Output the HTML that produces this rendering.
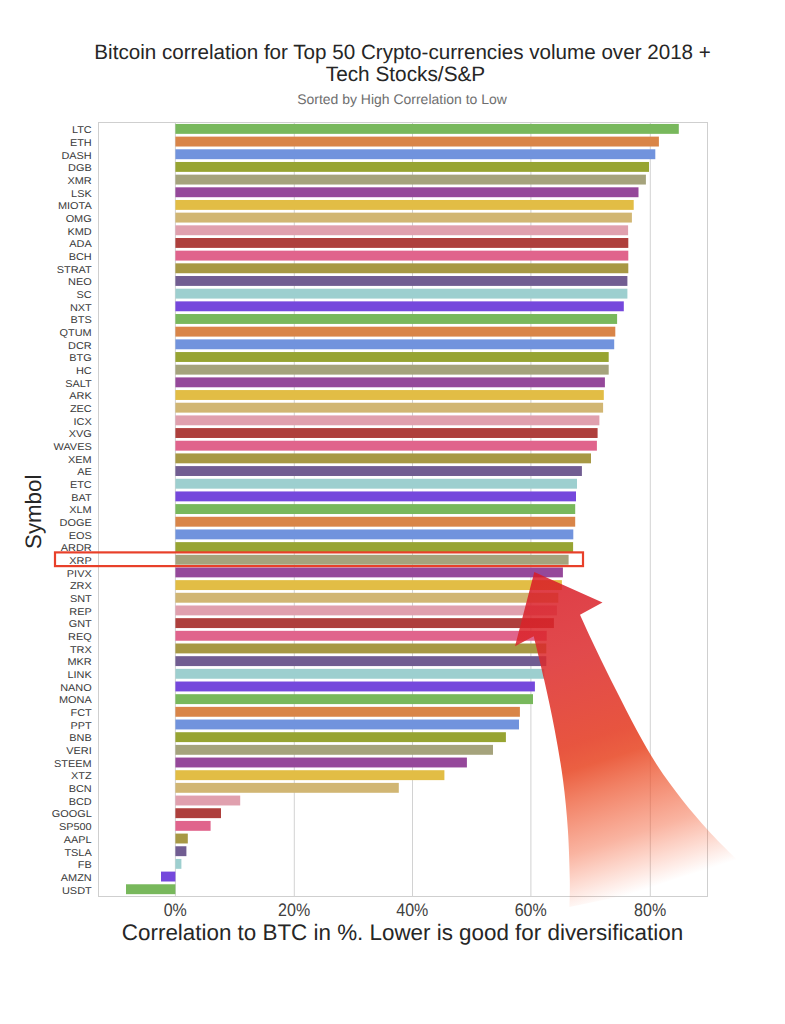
<!DOCTYPE html>
<html><head><meta charset="utf-8"><title>Bitcoin correlation</title>
<style>
html,body{margin:0;padding:0;background:#fff;}
body{width:785px;height:1024px;overflow:hidden;font-family:"Liberation Sans",sans-serif;}
svg{display:block;}
text{font-family:"Liberation Sans",sans-serif;text-rendering:geometricPrecision;}
</style></head><body>
<svg width="785" height="1024" viewBox="0 0 785 1024">
<defs>
<linearGradient id="ag" gradientUnits="userSpaceOnUse" x1="535" y1="572" x2="638.8" y2="891.5">
<stop offset="0" stop-color="#d81a26" stop-opacity="0.85"/>
<stop offset="0.27" stop-color="#dc2a2c" stop-opacity="0.85"/>
<stop offset="0.524" stop-color="#e5422a" stop-opacity="0.9"/>
<stop offset="0.595" stop-color="#e84a28" stop-opacity="0.88"/>
<stop offset="0.68" stop-color="#ec5029" stop-opacity="0.72"/>
<stop offset="0.833" stop-color="#f25429" stop-opacity="0.44"/>
<stop offset="0.917" stop-color="#f65629" stop-opacity="0.22"/>
<stop offset="1" stop-color="#f65629" stop-opacity="0"/>
</linearGradient>
</defs>
<rect width="785" height="1024" fill="#ffffff"/>
<rect x="98.5" y="122.5" width="609.0" height="774.0" fill="#fff" stroke="#cfcfcf" stroke-width="1"/>
<line x1="175.4" y1="122.5" x2="175.4" y2="896.5" stroke="#d2d2d2" stroke-width="1"/>
<line x1="294.3" y1="122.5" x2="294.3" y2="896.5" stroke="#d2d2d2" stroke-width="1"/>
<line x1="412.5" y1="122.5" x2="412.5" y2="896.5" stroke="#d2d2d2" stroke-width="1"/>
<line x1="530.9" y1="122.5" x2="530.9" y2="896.5" stroke="#d2d2d2" stroke-width="1"/>
<line x1="650.3" y1="122.5" x2="650.3" y2="896.5" stroke="#d2d2d2" stroke-width="1"/>
<rect x="175.4" y="123.95" width="503.4" height="9.90" fill="#78b85c"/>
<rect x="175.4" y="136.62" width="483.5" height="9.90" fill="#d98548"/>
<rect x="175.4" y="149.29" width="479.9" height="9.90" fill="#7193dd"/>
<rect x="175.4" y="161.97" width="473.6" height="9.90" fill="#97a432"/>
<rect x="175.4" y="174.64" width="470.5" height="9.90" fill="#a5a37c"/>
<rect x="175.4" y="187.31" width="463.1" height="9.90" fill="#95489a"/>
<rect x="175.4" y="199.98" width="458.3" height="9.90" fill="#e2bd45"/>
<rect x="175.4" y="212.65" width="456.5" height="9.90" fill="#d1b673"/>
<rect x="175.4" y="225.33" width="452.7" height="9.90" fill="#e0a0ae"/>
<rect x="175.4" y="238.00" width="452.9" height="9.90" fill="#ae3f3c"/>
<rect x="175.4" y="250.67" width="452.9" height="9.90" fill="#e0648c"/>
<rect x="175.4" y="263.34" width="452.9" height="9.90" fill="#a79844"/>
<rect x="175.4" y="276.01" width="452.0" height="9.90" fill="#715d92"/>
<rect x="175.4" y="288.69" width="452.0" height="9.90" fill="#9dcfcf"/>
<rect x="175.4" y="301.36" width="448.4" height="9.90" fill="#7548dc"/>
<rect x="175.4" y="314.03" width="441.7" height="9.90" fill="#78b85c"/>
<rect x="175.4" y="326.70" width="439.9" height="9.90" fill="#d98548"/>
<rect x="175.4" y="339.37" width="438.8" height="9.90" fill="#7193dd"/>
<rect x="175.4" y="352.05" width="433.3" height="9.90" fill="#97a432"/>
<rect x="175.4" y="364.72" width="433.3" height="9.90" fill="#a5a37c"/>
<rect x="175.4" y="377.39" width="429.5" height="9.90" fill="#95489a"/>
<rect x="175.4" y="390.06" width="428.4" height="9.90" fill="#e2bd45"/>
<rect x="175.4" y="402.73" width="427.7" height="9.90" fill="#d1b673"/>
<rect x="175.4" y="415.41" width="424.0" height="9.90" fill="#e0a0ae"/>
<rect x="175.4" y="428.08" width="422.2" height="9.90" fill="#ae3f3c"/>
<rect x="175.4" y="440.75" width="421.5" height="9.90" fill="#e0648c"/>
<rect x="175.4" y="453.42" width="415.6" height="9.90" fill="#a79844"/>
<rect x="175.4" y="466.09" width="406.5" height="9.90" fill="#715d92"/>
<rect x="175.4" y="478.77" width="401.6" height="9.90" fill="#9dcfcf"/>
<rect x="175.4" y="491.44" width="400.6" height="9.90" fill="#7548dc"/>
<rect x="175.4" y="504.11" width="399.8" height="9.90" fill="#78b85c"/>
<rect x="175.4" y="516.78" width="399.8" height="9.90" fill="#d98548"/>
<rect x="175.4" y="529.45" width="397.9" height="9.90" fill="#7193dd"/>
<rect x="175.4" y="542.13" width="397.7" height="9.90" fill="#97a432"/>
<rect x="175.4" y="554.80" width="393.2" height="9.90" fill="#a5a37c"/>
<rect x="175.4" y="567.47" width="387.5" height="9.90" fill="#95489a"/>
<rect x="175.4" y="580.14" width="386.5" height="9.90" fill="#e2bd45"/>
<rect x="175.4" y="592.81" width="382.9" height="9.90" fill="#d1b673"/>
<rect x="175.4" y="605.49" width="381.5" height="9.90" fill="#e0a0ae"/>
<rect x="175.4" y="618.16" width="378.5" height="9.90" fill="#ae3f3c"/>
<rect x="175.4" y="630.83" width="371.3" height="9.90" fill="#e0648c"/>
<rect x="175.4" y="643.50" width="370.9" height="9.90" fill="#a79844"/>
<rect x="175.4" y="656.17" width="370.9" height="9.90" fill="#715d92"/>
<rect x="175.4" y="668.85" width="368.9" height="9.90" fill="#9dcfcf"/>
<rect x="175.4" y="681.52" width="359.5" height="9.90" fill="#7548dc"/>
<rect x="175.4" y="694.19" width="357.6" height="9.90" fill="#78b85c"/>
<rect x="175.4" y="706.86" width="344.5" height="9.90" fill="#d98548"/>
<rect x="175.4" y="719.53" width="343.6" height="9.90" fill="#7193dd"/>
<rect x="175.4" y="732.21" width="330.5" height="9.90" fill="#97a432"/>
<rect x="175.4" y="744.88" width="317.6" height="9.90" fill="#a5a37c"/>
<rect x="175.4" y="757.55" width="291.5" height="9.90" fill="#95489a"/>
<rect x="175.4" y="770.22" width="269.0" height="9.90" fill="#e2bd45"/>
<rect x="175.4" y="782.89" width="223.4" height="9.90" fill="#d1b673"/>
<rect x="175.4" y="795.57" width="64.8" height="9.90" fill="#e0a0ae"/>
<rect x="175.4" y="808.24" width="45.6" height="9.90" fill="#ae3f3c"/>
<rect x="175.4" y="820.91" width="35.2" height="9.90" fill="#e0648c"/>
<rect x="175.4" y="833.58" width="12.4" height="9.90" fill="#a79844"/>
<rect x="175.4" y="846.25" width="11.0" height="9.90" fill="#715d92"/>
<rect x="175.4" y="858.93" width="6.0" height="9.90" fill="#9dcfcf"/>
<rect x="161.0" y="871.60" width="14.4" height="9.90" fill="#7548dc"/>
<rect x="126.0" y="884.27" width="49.4" height="9.90" fill="#78b85c"/>
<g font-size="9.9" fill="#3a3a3a" text-anchor="end" transform="translate(91.7,0) scale(1.105,1)">
<text x="0" y="133.20">LTC</text>
<text x="0" y="145.87">ETH</text>
<text x="0" y="158.54">DASH</text>
<text x="0" y="171.22">DGB</text>
<text x="0" y="183.89">XMR</text>
<text x="0" y="196.56">LSK</text>
<text x="0" y="209.23">MIOTA</text>
<text x="0" y="221.90">OMG</text>
<text x="0" y="234.58">KMD</text>
<text x="0" y="247.25">ADA</text>
<text x="0" y="259.92">BCH</text>
<text x="0" y="272.59">STRAT</text>
<text x="0" y="285.26">NEO</text>
<text x="0" y="297.94">SC</text>
<text x="0" y="310.61">NXT</text>
<text x="0" y="323.28">BTS</text>
<text x="0" y="335.95">QTUM</text>
<text x="0" y="348.62">DCR</text>
<text x="0" y="361.30">BTG</text>
<text x="0" y="373.97">HC</text>
<text x="0" y="386.64">SALT</text>
<text x="0" y="399.31">ARK</text>
<text x="0" y="411.98">ZEC</text>
<text x="0" y="424.66">ICX</text>
<text x="0" y="437.33">XVG</text>
<text x="0" y="450.00">WAVES</text>
<text x="0" y="462.67">XEM</text>
<text x="0" y="475.34">AE</text>
<text x="0" y="488.02">ETC</text>
<text x="0" y="500.69">BAT</text>
<text x="0" y="513.36">XLM</text>
<text x="0" y="526.03">DOGE</text>
<text x="0" y="538.70">EOS</text>
<text x="0" y="551.38">ARDR</text>
<text x="0" y="564.05">XRP</text>
<text x="0" y="576.72">PIVX</text>
<text x="0" y="589.39">ZRX</text>
<text x="0" y="602.06">SNT</text>
<text x="0" y="614.74">REP</text>
<text x="0" y="627.41">GNT</text>
<text x="0" y="640.08">REQ</text>
<text x="0" y="652.75">TRX</text>
<text x="0" y="665.42">MKR</text>
<text x="0" y="678.10">LINK</text>
<text x="0" y="690.77">NANO</text>
<text x="0" y="703.44">MONA</text>
<text x="0" y="716.11">FCT</text>
<text x="0" y="728.78">PPT</text>
<text x="0" y="741.46">BNB</text>
<text x="0" y="754.13">VERI</text>
<text x="0" y="766.80">STEEM</text>
<text x="0" y="779.47">XTZ</text>
<text x="0" y="792.14">BCN</text>
<text x="0" y="804.82">BCD</text>
<text x="0" y="817.49">GOOGL</text>
<text x="0" y="830.16">SP500</text>
<text x="0" y="842.83">AAPL</text>
<text x="0" y="855.50">TSLA</text>
<text x="0" y="868.18">FB</text>
<text x="0" y="880.85">AMZN</text>
<text x="0" y="893.52">USDT</text>
</g>
<g font-size="18.1" fill="#404040" text-anchor="middle">
<text transform="translate(175.2,915.7) scale(0.885,1)">0%</text>
<text transform="translate(294.1,915.7) scale(0.885,1)">20%</text>
<text transform="translate(412.3,915.7) scale(0.885,1)">40%</text>
<text transform="translate(530.7,915.7) scale(0.885,1)">60%</text>
<text transform="translate(650.1,915.7) scale(0.885,1)">80%</text>
</g>
<text x="402.6" y="58.6" font-size="20.62" fill="#262626" text-anchor="middle">Bitcoin correlation for Top 50 Crypto-currencies volume over 2018 +</text>
<text x="405.5" y="80.9" font-size="20.8" fill="#262626" text-anchor="middle">Tech Stocks/S&amp;P</text>
<text x="402.0" y="103.8" font-size="13.98" fill="#6e6e6e" text-anchor="middle">Sorted by High Correlation to Low</text>
<text x="402.5" y="939.5" font-size="22.4" fill="#262626" text-anchor="middle">Correlation to BTC in %. Lower is good for diversification</text>
<text transform="translate(41.4,511.8) rotate(-90)" font-size="22.3" fill="#262626" text-anchor="middle">Symbol</text>
<rect x="55" y="552.4" width="528" height="13.7" fill="none" stroke="#e8402a" stroke-width="2.2"/>
<path d="M534.3,572 L602.5,602.4 L580,614.8 C582.7,620.7 590.3,637.5 596.3,650.0 C602.3,662.5 609.3,676.7 616.0,690.0 C622.7,703.3 629.8,717.5 636.6,730.0 C643.4,742.5 649.4,753.3 657.0,765.0 C664.6,776.7 673.8,789.2 682.3,800.0 C690.8,810.8 699.5,820.8 707.8,830.0 C716.1,839.2 725.4,848.3 732.2,855.0 C739.0,861.7 745.7,867.5 748.4,870.0 L569.4,907 C569.5,902.5 570.0,892.8 569.8,880.0 C569.5,867.2 569.0,846.7 567.9,830.0 C566.8,813.3 565.2,796.7 563.0,780.0 C560.8,763.3 557.8,746.7 554.7,730.0 C551.6,713.3 547.7,695.6 544.2,680.0 C540.7,664.4 535.5,643.6 533.7,636.3 L515,646.3 Z" fill="url(#ag)"/>
</svg>
</body></html>
